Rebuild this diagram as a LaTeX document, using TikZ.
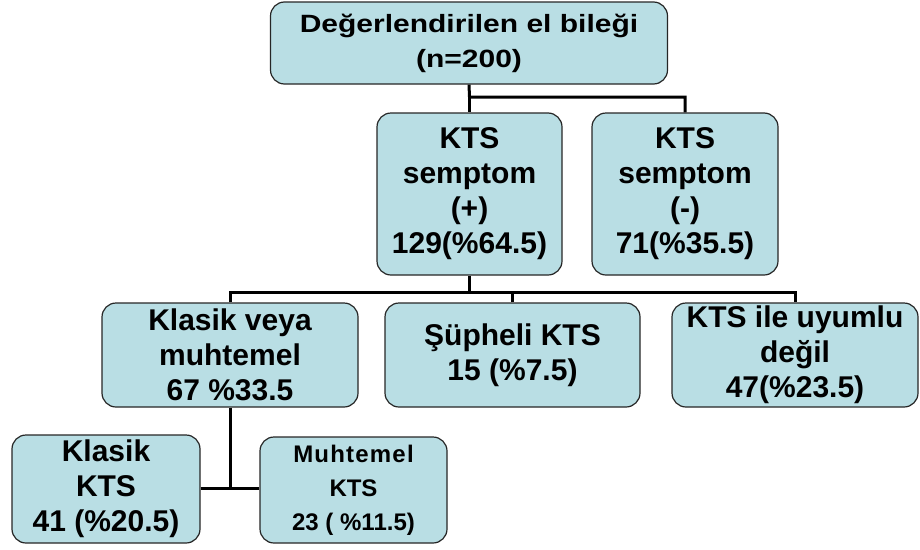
\documentclass[tikz,border=0pt]{standalone}
\usepackage{fontspec}
\setmainfont{Liberation Sans}
\newfontfamily\genis{Liberation Sans}[FakeStretch=1.2]
\usepackage{tikz}
\usetikzlibrary{calc}
\definecolor{kutumavi}{RGB}{185,222,228}
\tikzset{kutu/.style={draw=black!85,line width=1.2pt,fill=kutumavi,rounded corners=14pt,
  align=center,inner sep=2pt,font=\fontsize{30}{35}\selectfont\bfseries},
  bag/.style={line width=3pt}}
\newcommand{\kutu}[6]{\node[kutu,minimum width=#4pt,minimum height=#5pt] (#1) at ( #2 , #3 ) {#6};}

\begin{document}
\begin{tikzpicture}[x=1pt,y=-1pt]
\useasboundingbox (0,0) rectangle (920,549);
% row 1 of boxes
\kutu{top}{469}{43}{397}{82}{\genis\fontsize{25}{38}\selectfont\bfseries Değerlendirilen el bileği\\\genis\fontsize{25}{38}\selectfont\bfseries (n=200)}
% row 2 of boxes
\kutu{pos}{469.5}{194}{185}{162}{KTS\\semptom\\(+)\\129(\%64.5)}
\kutu{neg}{685}{194}{186}{162}{KTS\\semptom\\(-)\\71(\%35.5)}
% row 3 of boxes
\kutu{klv}{230}{355}{256}{104}{Klasik veya\\muhtemel\\67 \%33.5}
\kutu{sup}{512.5}{355}{255}{104}{Şüpheli KTS\\15 (\%7.5)}
\kutu{uyu}{795}{355}{246}{104}{KTS ile uyumlu\\değil\\47(\%23.5)}
% row 4 of boxes
\kutu{klkts}{106}{489}{188}{108}{Klasik\\KTS\\41 (\%20.5)}
\node[kutu,minimum width=187pt,minimum height=106pt,font=\fontsize{24}{34}\selectfont\bfseries] (muh) at (353.5,490) {{\addfontfeature{LetterSpace=5}Muhtemel}\\KTS\\23 ( \%11.5)};
% joints
\coordinate (j1) at (469.5,97);
\coordinate (j2) at (469.5,292);
\coordinate (j3) at (230,488);
% lines
\draw[bag] (top.south) -- (j1) -| (neg.north);
\draw[bag] (j1) -- (pos.north);
\draw[bag] (pos.south) -- (j2);
\draw[bag] (klv.north) |- (j2) -| (uyu.north);
\draw[bag] (sup.north) -- (sup.north |- j2);
\draw[bag] (klv.south) -- (j3);
\draw[bag] (klkts.east |- j3) -- (muh.west |- j3);
\end{tikzpicture}
\end{document}
